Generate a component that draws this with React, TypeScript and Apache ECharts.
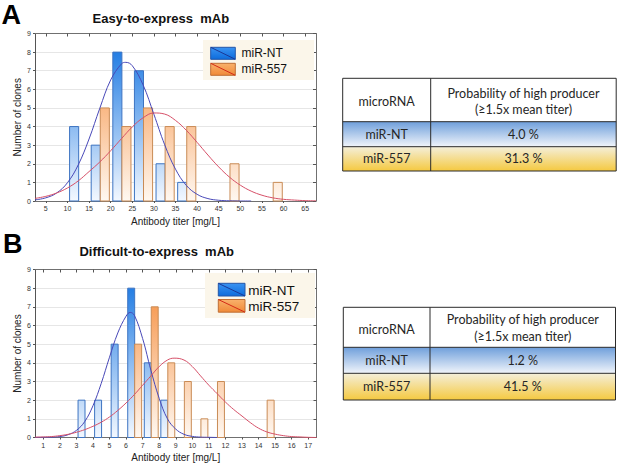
import React, { useEffect, useRef } from "react";
import * as echarts from "echarts";

// ---------- data ----------
// Panel A: Easy-to-express mAb (bins of 5 mg/L)
const binsA = [10, 15, 20, 25, 30, 35, 40, 45, 50, 55];
const ntCountsA = [4, 3, 8, 7, 2, 1, 0, 0, 0, 0];
const m557CountsA = [0, 5, 4, 5, 4, 4, 0, 2, 0, 1];
const ticksA = [5, 10, 15, 20, 25, 30, 35, 40, 45, 50, 55, 60, 65];
const ntCurveA: [number, number][] = [
  [2.5, 0.06], [5, 0.17], [7.5, 0.43], [10, 0.98], [12.5, 1.94], [15, 3.33], [17.5, 4.99],
  [20, 6.5], [22.5, 7.37], [23.5, 7.45], [25, 7.27], [27.5, 6.24], [30, 4.66], [32.5, 3.02],
  [35, 1.71], [37.5, 0.84], [40, 0.36], [42.5, 0.13], [45, 0.04], [47.5, 0.01], [50, 0], [52.5, 0],
];
const m557CurveA: [number, number][] = [
  [2.5, 0.14], [5, 0.25], [7.5, 0.43], [10, 0.7], [12.5, 1.08], [15, 1.58], [17.5, 2.1],
  [20, 2.7], [22.5, 3.35], [25, 3.98], [27.5, 4.47], [30, 4.73], [32.5, 4.67], [35, 4.33],
  [37.5, 3.8], [40, 3.15], [42.5, 2.47], [45, 1.83], [47.5, 1.28], [50, 0.85], [52.5, 0.53],
  [55, 0.31], [57.5, 0.17], [60, 0.09], [62.5, 0.05], [65, 0.02], [67.5, 0.01],
];

// Panel B: Difficult-to-express mAb (bins of 1 mg/L)
const binsB = [3, 4, 5, 6, 7, 8, 9, 10, 11, 12, 13, 14];
const ntCountsB = [2, 2, 5, 8, 4, 2, 0, 0, 0, 0, 0, 0];
const m557CountsB = [0, 0, 0, 5, 7, 4, 3, 1, 3, 0, 0, 2];
const ticksB = [1, 2, 3, 4, 5, 6, 7, 8, 9, 10, 11, 12, 13, 14, 15, 16, 17];
const ntCurveB: [number, number][] = [
  [0.5, 0], [1, 0.01], [1.5, 0.02], [2, 0.05], [2.5, 0.15], [3, 0.38], [3.5, 0.85], [4, 1.7],
  [4.5, 2.9], [5, 4.3], [5.5, 5.6], [6, 6.5], [6.25, 6.7], [6.5, 6.55], [7, 5.3], [7.5, 3.6],
  [8, 2.1], [8.5, 1.0], [9, 0.45], [9.5, 0.17], [10, 0.06], [10.5, 0.02], [11, 0.01], [11.5, 0],
];
const m557CurveB: [number, number][] = [
  [0.5, 0.02], [1, 0.03], [1.5, 0.05], [2, 0.1], [2.5, 0.17], [3, 0.28], [3.5, 0.42], [4, 0.6],
  [4.5, 0.82], [5, 1.1], [5.5, 1.45], [6, 1.85], [6.5, 2.3], [7, 2.8], [7.5, 3.3], [8, 3.8],
  [8.5, 4.15], [8.9, 4.25], [9.5, 4.15], [10, 3.8], [10.5, 3.3], [11, 2.8], [11.5, 2.35],
  [12, 1.9], [12.5, 1.5], [13, 1.15], [13.5, 0.8], [14, 0.5], [14.5, 0.3], [15, 0.18],
  [15.5, 0.1], [16, 0.05], [16.5, 0.03], [17, 0.01], [17.5, 0],
];

// Tables
const tableHeader = ["microRNA", "Probability of high producer", "(≥1.5x mean titer)"];
const tableRowsLabels = ["miR-NT", "miR-557"];
const tableA = ["4.0 %", "31.3 %"];
const tableB = ["1.2 %", "41.5 %"];

const FONT = '"Liberation Sans", Arial, sans-serif';
const TFONT = 'Lato, "Noto Sans", sans-serif';

const BLUE_GRAD = ["#0b6fe0", "#f3f8ff"];
const ORANGE_GRAD = ["#f5852e", "#fff8f1"];
const BLUE_STROKE = "#3d74c2";
const ORANGE_STROKE = "#c98b55";

function barSeries(xi: number, yi: number, bins: number[], counts: number[], off0: number, off1: number, grad: string[], stroke: string) {
  const data = bins.map((b, i) => [b, counts[i]]).filter((d) => d[1] > 0);
  return {
    type: "custom",
    xAxisIndex: xi,
    yAxisIndex: yi,
    data,
    silent: true,
    z: 2,
    renderItem: (params: any, api: any) => {
      const b = api.value(0);
      const v = api.value(1);
      const p0 = api.coord([b + off0, v]);
      const p1 = api.coord([b + off1, 0]);
      const yTop = api.coord([b, 9])[1];
      const fill = new echarts.graphic.LinearGradient(0, yTop, 0, p1[1], [
        { offset: 0, color: grad[0] },
        { offset: 1, color: grad[1] },
      ], true);
      return {
        type: "rect",
        shape: { x: p0[0], y: p0[1], width: p1[0] - p0[0], height: p1[1] - p0[1] },
        style: { fill, stroke, lineWidth: 1 },
      };
    },
  };
}

function curveSeries(xi: number, yi: number, data: [number, number][], color: string) {
  return {
    type: "line",
    xAxisIndex: xi,
    yAxisIndex: yi,
    data,
    smooth: 0.4,
    symbol: "none",
    showSymbol: false,
    silent: true,
    z: 5,
    lineStyle: { color, width: 1 },
  };
}

const AXIS_COLOR = "#707070";

function bottomX(gridIndex: number, min: number, max: number, ticks: number[]) {
  return {
    type: "value",
    gridIndex,
    position: "bottom",
    min,
    max,
    splitLine: { show: false },
    axisLine: { show: true, onZero: false, lineStyle: { color: AXIS_COLOR, width: 1 } },
    axisTick: { show: true, customValues: ticks, length: 2, lineStyle: { color: "#555" } },
    axisLabel: { customValues: ticks, fontSize: 7, color: "#333", margin: 4, fontFamily: FONT },
    name: "Antibody titer [mg/L]",
    nameLocation: "middle",
    nameGap: 15,
    nameTextStyle: { fontSize: 10, color: "#222", fontFamily: FONT },
  };
}

function topX(gridIndex: number, min: number, max: number, ticks: number[]) {
  return {
    type: "value",
    gridIndex,
    position: "top",
    min,
    max,
    splitLine: { show: false },
    axisLine: { show: true, onZero: false, lineStyle: { color: AXIS_COLOR, width: 1 } },
    axisTick: { show: true, inside: true, customValues: ticks, length: 3, lineStyle: { color: "#555" } },
    axisLabel: { show: false },
  };
}

function leftY(gridIndex: number) {
  return {
    type: "value",
    gridIndex,
    position: "left",
    min: 0,
    max: 9,
    interval: 1,
    splitLine: { show: true, lineStyle: { color: "#e6e6e6", width: 1 } },
    axisLine: { show: true, onZero: false, lineStyle: { color: "#555", width: 1 } },
    axisTick: { show: true, length: 2, lineStyle: { color: "#555" } },
    axisLabel: { fontSize: 7, color: "#333", margin: 4, fontFamily: FONT },
    name: "Number of clones",
    nameLocation: "middle",
    nameGap: 13,
    nameTextStyle: { fontSize: 10, color: "#222", fontFamily: FONT },
  };
}

function rightY(gridIndex: number) {
  return {
    type: "value",
    gridIndex,
    position: "right",
    min: 0,
    max: 9,
    interval: 1,
    splitLine: { show: false },
    axisLine: { show: true, onZero: false, lineStyle: { color: AXIS_COLOR, width: 1 } },
    axisTick: { show: true, inside: true, length: 3, lineStyle: { color: "#555" } },
    axisLabel: { show: false },
  };
}

function txt(x: number, y: number, text: string, size: number, opts: any = {}) {
  return {
    type: "text",
    x,
    y,
    silent: true,
    z: 20,
    style: {
      text,
      fontSize: size,
      fontFamily: opts.family || FONT,
      fontWeight: opts.weight || "normal",
      fill: opts.color || "#1a1a1a",
      align: opts.align || "center",
      verticalAlign: "middle",
    },
  };
}

function legendGroup(box: number[], iconW: number, iconH: number, iy1: number, iy2: number, ix: number, tx: number, ty1: number, ty2: number, fs: number) {
  const els: any[] = [];
  els.push({ type: "rect", shape: { x: box[0], y: box[1], width: box[2], height: box[3] }, style: { fill: "#fbf6ea" }, z: 15 });
  const icons = [
    { y: iy1, grad: ["#3a93f2", "#0d6cdc"], stroke: "#2457a8", diag: "#1b3896", label: "miR-NT", ty: ty1 },
    { y: iy2, grad: ["#f9b16c", "#f08a38"], stroke: "#bf6f35", diag: "#d42a18", label: "miR-557", ty: ty2 },
  ];
  icons.forEach((ic) => {
    els.push({
      type: "rect",
      shape: { x: ix, y: ic.y, width: iconW, height: iconH },
      style: {
        fill: new echarts.graphic.LinearGradient(0, 0, 0, 1, [
          { offset: 0, color: ic.grad[0] },
          { offset: 1, color: ic.grad[1] },
        ]),
        stroke: ic.stroke,
        lineWidth: 1,
      },
      z: 16,
    });
    els.push({
      type: "line",
      shape: { x1: ix, y1: ic.y, x2: ix + iconW, y2: ic.y + iconH },
      style: { stroke: ic.diag, lineWidth: 1 },
      z: 17,
    });
    els.push(txt(tx, ic.ty, ic.label, fs, { align: "left", color: "#111" }));
  });
  return els;
}

function tableGroup(x0: number, x1: number, xc: number, rows: number[], values: string[], hl1: number, hl2: number, hmid: number) {
  const els: any[] = [];
  const [r0, r1, r2, r3] = rows;
  els.push({ type: "rect", shape: { x: x0, y: r0, width: x1 - x0, height: r1 - r0 }, style: { fill: "#ffffff" }, z: 10 });
  els.push({
    type: "rect",
    shape: { x: x0, y: r1, width: x1 - x0, height: r2 - r1 },
    style: {
      fill: new echarts.graphic.LinearGradient(0, 0, 0, 1, [
        { offset: 0, color: "#6f9fdb" },
        { offset: 1, color: "#f1f5fb" },
      ]),
    },
    z: 10,
  });
  els.push({
    type: "rect",
    shape: { x: x0, y: r2, width: x1 - x0, height: r3 - r2 },
    style: {
      fill: new echarts.graphic.LinearGradient(0, 0, 0, 1, [
        { offset: 0, color: "#f4efda" },
        { offset: 1, color: "#f5c940" },
      ]),
    },
    z: 10,
  });
  const stroke = { stroke: "#2b2b2b", lineWidth: 1 };
  els.push({ type: "rect", shape: { x: x0, y: r0, width: x1 - x0, height: r3 - r0 }, style: { fill: "none", ...stroke }, z: 12 });
  els.push({ type: "line", shape: { x1: x0, y1: r1, x2: x1, y2: r1 }, style: stroke, z: 12 });
  els.push({ type: "line", shape: { x1: x0, y1: r2, x2: x1, y2: r2 }, style: stroke, z: 12 });
  els.push({ type: "line", shape: { x1: xc, y1: r0, x2: xc, y2: r3 }, style: stroke, z: 12 });
  const c1 = (x0 + xc) / 2;
  const c2 = (xc + x1) / 2;
  const o = { family: TFONT, color: "#262626" };
  els.push(txt(c1, hmid, tableHeader[0], 12.5, o));
  els.push(txt(c2, hl1, tableHeader[1], 12.5, o));
  els.push(txt(c2, hl2, tableHeader[2], 12.5, o));
  els.push(txt(c1, (r1 + r2) / 2, tableRowsLabels[0], 12.5, o));
  els.push(txt(c2, (r1 + r2) / 2, values[0], 12.5, o));
  els.push(txt(c1, (r2 + r3) / 2, tableRowsLabels[1], 12.5, o));
  els.push(txt(c2, (r2 + r3) / 2, values[1], 12.5, o));
  return els;
}

export default function App() {
  const ref = useRef<HTMLDivElement>(null);
  useEffect(() => {
    if (!ref.current) return;
    const chart = echarts.init(ref.current, null, { renderer: "svg" });
    const option: any = {
      animation: false,
      backgroundColor: "#ffffff",
      grid: [
        { left: 35, top: 33.5, width: 281, height: 167.5 },
        { left: 35, top: 269.5, width: 281.5, height: 168 },
      ],
      xAxis: [
        bottomX(0, 2.5, 67.5, ticksA),
        topX(0, 2.5, 67.5, ticksA),
        bottomX(1, 0.5, 17.5, ticksB),
        topX(1, 0.5, 17.5, ticksB),
      ],
      yAxis: [leftY(0), rightY(0), leftY(1), rightY(1)],
      series: [
        barSeries(0, 0, binsA, ntCountsA, 0.5, 2.6, BLUE_GRAD, BLUE_STROKE),
        barSeries(0, 0, binsA, m557CountsA, 2.6, 4.7, ORANGE_GRAD, ORANGE_STROKE),
        curveSeries(0, 0, ntCurveA, "#4848b8"),
        curveSeries(0, 0, m557CurveA, "#d65068"),
        barSeries(2, 2, binsB, ntCountsB, 0.1, 0.52, BLUE_GRAD, BLUE_STROKE),
        barSeries(2, 2, binsB, m557CountsB, 0.52, 0.94, ORANGE_GRAD, ORANGE_STROKE),
        curveSeries(2, 2, ntCurveB, "#4848b8"),
        curveSeries(2, 2, m557CurveB, "#d65068"),
      ],
      graphic: [
        txt(1.5, 14.5, "A", 27, { weight: "bold", align: "left", color: "#000" }),
        txt(160.8, 18.4, "Easy-to-express  mAb", 13, { weight: "bold", color: "#111" }),
        txt(3, 244, "B", 27, { weight: "bold", align: "left", color: "#000" }),
        txt(156.7, 251.5, "Difficult-to-express  mAb", 13, { weight: "bold", color: "#111" }),
        ...legendGroup([203, 40, 111, 40], 24.6, 12, 47.3, 63.3, 210.7, 241.5, 53.3, 69.3, 12),
        ...legendGroup([205, 273, 110, 45], 26.7, 12.7, 283.3, 299.5, 218.3, 248.3, 290, 306, 13.5),
        ...tableGroup(342.7, 616.2, 430.7, [78.3, 121.7, 146.7, 171], tableA, 93.3, 109.3, 101.7),
        ...tableGroup(343.3, 615.5, 430, [307.3, 347.3, 373.3, 400], tableB, 319.3, 336.7, 329.3),
      ],
    };
    chart.setOption(option);
    return () => chart.dispose();
  }, []);
  return (
    <div
      ref={ref}
      style={{ position: "fixed", left: 0, top: 0, width: 617, height: 464, background: "#fff" }}
    />
  );
}
